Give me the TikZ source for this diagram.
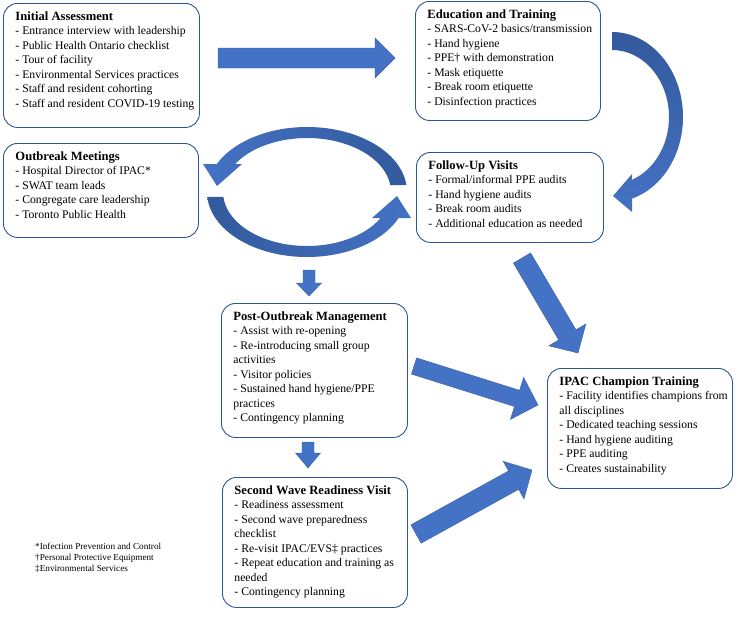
\documentclass[tikz,border=0pt]{standalone}
\usepackage{fontspec}
\setmainfont{Liberation Serif}
\usetikzlibrary{calc}

\definecolor{boxline}{HTML}{2F5597}
\definecolor{arrowblue}{HTML}{4472C4}
\definecolor{arrowdark}{HTML}{325A9C}

\newcommand{\stagefont}{\fontsize{11.7pt}{14.5pt}\selectfont}
\newcommand{\stagetitle}[1]{{\fontsize{12.6pt}{14.5pt}\selectfont\bfseries #1}}
% box text: width, height, lines
\newcommand{\stagetext}[3]{\hspace*{12pt}\parbox[c][\dimexpr#2pt-16pt\relax][t]{\dimexpr#1pt-16pt\relax}{\stagefont\raggedright #3}\hspace*{4pt}}
% block arrow: from, to, half shaft, half head, head length
\newcommand{\blockarrow}[5]{%
	\coordinate (hb) at ($(#2)!#5!(#1)$);
	\filldraw[flow] ($(#1)!#3!90:(#2)$) -- ($(hb)!#3!90:(#2)$) -- ($(hb)!#4!90:(#2)$) -- (#2)
		-- ($(hb)!#4!-90:(#2)$) -- ($(hb)!#3!-90:(#2)$) -- ($(#1)!#3!-90:(#2)$) -- cycle;}

\tikzstyle{stage} = [draw=boxline,
					 line width=0.9pt,
					 fill=white,
					 rounded corners=14pt,
					 anchor=north west,
					 inner xsep=0pt,
					 inner ysep=8pt]
\tikzstyle{flow} = [fill=arrowblue,
					draw=arrowblue!85!black,
					line width=0.4pt]

\begin{document}
\begin{tikzpicture}[x=1pt,y=-1pt]

	\path[fill=white, use as bounding box] (0,0) rectangle (738,616);

	%%%%%%%%%%%%
	% STAGES   %
	%%%%%%%%%%%%
	\node[stage] (init) at (3,3) {\stagetext{196}{124}{\stagetitle{Initial Assessment}\\
		- Entrance interview with leadership\\
		- Public Health Ontario checklist\\
		- Tour of facility\\
		- Environmental Services practices\\
		- Staff and resident cohorting\\
		- Staff and resident COVID-19 testing}};
	\node[stage] (edu) at (415,1) {\stagetext{185}{119}{\stagetitle{Education and Training}\\
		- SARS-CoV-2 basics/transmission\\
		- Hand hygiene\\
		- PPE† with demonstration\\
		- Mask etiquette\\
		- Break room etiquette\\
		- Disinfection practices}};
	\node[stage] (meet) at (3,143) {\stagetext{195}{94}{\stagetitle{Outbreak Meetings}\\
		- Hospital Director of IPAC*\\
		- SWAT team leads\\
		- Congregate care leadership\\
		- Toronto Public Health}};
	\node[stage] (follow) at (416,152) {\stagetext{187}{90}{\stagetitle{Follow-Up Visits}\\
		- Formal/informal PPE audits\\
		- Hand hygiene audits\\
		- Break room audits\\
		- Additional education as needed}};
	\node[stage] (post) at (221,303) {\stagetext{186}{134}{\stagetitle{Post-Outbreak Management}\\
		- Assist with re-opening\\
		- Re-introducing small group\\
		activities\\
		- Visitor policies\\
		- Sustained hand hygiene/PPE\\
		practices\\
		- Contingency planning}};
	\node[stage] (wave) at (222,477) {\stagetext{185}{130}{\stagetitle{Second Wave Readiness Visit}\\
		- Readiness assessment\\
		- Second wave preparedness\\
		checklist\\
		- Re-visit IPAC/EVS‡ practices\\
		- Repeat education and training as\\
		needed\\
		- Contingency planning}};
	\node[stage] (champ) at (547,368) {\stagetext{185}{120}{\stagetitle{IPAC Champion Training}\\
		- Facility identifies champions from\\
		all disciplines\\
		- Dedicated teaching sessions\\
		- Hand hygiene auditing\\
		- PPE auditing\\
		- Creates sustainability}};

	\node[anchor=north west, inner sep=0pt, align=left, font=\fontsize{9.2pt}{11pt}\selectfont] (notes) at (35,542.5) {*Infection Prevention and Control\\
		†Personal Protective Equipment\\
		‡Environmental Services};

	%%%%%%%%%%%%
	% ARROWS   %
	%%%%%%%%%%%%
	\coordinate (initout) at (218,58);
	\coordinate (eduin) at (395,58);
	\coordinate (ringout) at (309,270);
	\coordinate (postin) at (309,296);
	\coordinate (postout) at (308,442);
	\coordinate (wavein) at (308,468);
	\coordinate (followout) at (522,258);
	\coordinate (champtop) at (578,353);
	\coordinate (postright) at (414,366);
	\coordinate (champleft) at (538,405);
	\coordinate (waveright) at (416,534);
	\coordinate (champlow) at (532,470);

	\blockarrow{initout}{eduin}{10pt}{20pt}{20pt}
	\blockarrow{ringout}{postin}{6pt}{12.5pt}{13pt}
	\blockarrow{postout}{wavein}{6pt}{12.5pt}{15pt}
	\blockarrow{followout}{champtop}{10pt}{21.5pt}{21pt}
	\blockarrow{postright}{champleft}{8.5pt}{22pt}{22pt}
	\blockarrow{waveright}{champlow}{10.5pt}{21.5pt}{21pt}

	% curved arrow from education down to follow-up
	\coordinate (bend) at (612,117);
	\shade[top color=arrowdark, middle color=arrowblue, bottom color=arrowblue]
		($(bend)+(90:71pt and 85pt)$) arc[start angle=90, end angle=-73.6, x radius=71pt, y radius=85pt]
		-- (632,212) -- (613,196) -- (632,174)
		-- ($(bend)+(-69.5:57pt and 67pt)$) arc[start angle=-69.5, end angle=90, x radius=57pt, y radius=67pt] -- cycle;

	% outbreak cycle
	\coordinate (ring) at (307,192);
	\shade[left color=arrowblue, middle color=arrowblue, right color=arrowdark]
		($(ring)+(6.2:100pt and 65pt)$) arc[start angle=6.2, end angle=154.5, x radius=100pt, y radius=65pt]
		-- (203,164) -- (217,186) -- (242,164)
		-- ($(ring)+(148.8:84pt and 54pt)$) arc[start angle=148.8, end angle=7.4, x radius=84pt, y radius=54pt] -- cycle;
	\shade[left color=arrowdark, middle color=arrowblue, right color=arrowblue]
		($(ring)+(184.4:100pt and 65pt)$) arc[start angle=184.4, end angle=336.4, x radius=100pt, y radius=65pt]
		-- (411,218) -- (397,196) -- (372,218)
		-- ($(ring)+(331.2:84pt and 54pt)$) arc[start angle=331.2, end angle=185.3, x radius=84pt, y radius=54pt] -- cycle;

\end{tikzpicture}
\end{document}
